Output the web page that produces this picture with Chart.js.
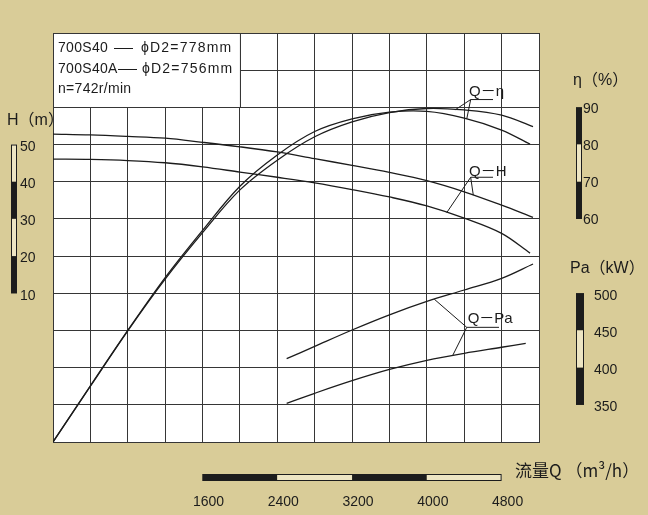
<!DOCTYPE html>
<html>
<head>
<meta charset="utf-8">
<script src="https://cdn.jsdelivr.net/npm/chart.js@4.4.1/dist/chart.umd.min.js"></script>
<style>
  html, body { margin: 0; padding: 0; background: #d9cc98; overflow: hidden; }
  #wrap { width: 648px; height: 515px; }
</style>
</head>
<body>
<div id="wrap"><canvas id="pumpChart" width="648" height="515"></canvas></div>
<script>
// flow rate samples, m3/h
const flow778 = [0, 400, 800, 1200, 1600, 2000, 2400, 2800, 3200, 3600, 4000, 4400, 4800, 5136];
const flow756 = [0, 400, 800, 1200, 1600, 2000, 2400, 2800, 3200, 3600, 4000, 4400, 4800, 5104];
// head, m
const head778 = [52.8, 52.6, 52.2, 51.7, 50.6, 49.4, 48.0, 46.2, 44.4, 42.5, 40.3, 37.3, 33.7, 30.4];
const head756 = [46.1, 46.0, 45.7, 45.1, 44.0, 42.6, 41.2, 39.7, 37.9, 35.9, 33.5, 30.2, 26.1, 20.8];
// efficiency, %
const eff778 = [0, 15.0, 29.9, 43.8, 56.3, 67.8, 75.8, 82.1, 86.1, 88.6, 89.7, 89.3, 87.9, 84.8];
const eff756 = [0, 15.1, 30.0, 44.2, 56.9, 68.8, 77.2, 83.5, 86.9, 88.7, 88.9, 87.1, 83.9, 80.1];
// shaft power, kW
const flowPa778 = [2500, 2800, 3200, 3600, 4000, 4400, 4800, 5136];
const power778 = [412, 428.6, 450.6, 471.0, 489.0, 504.4, 520.1, 539.4];
const flowPa756 = [2500, 2800, 3200, 3600, 4000, 4400, 4800, 5058];
const power756 = [352.0, 365.5, 382.4, 397.5, 409.8, 419.3, 427.4, 432.7];

// scale bar labels
const headTicks = [50, 40, 30, 20, 10];
const effTicks = [90, 80, 70, 60];
const powerTicks = [500, 450, 400, 350];
const flowTicks = [1600, 2400, 3200, 4000, 4800];

const INK = '#1c1c1c';
const GRID = '#363636';
const LIGHT = '#ede5c3';
const FONT = '"Liberation Sans", "Noto Sans CJK SC", sans-serif';

const toPoints = (xs, ys) => xs.map((x, i) => ({ x: x, y: ys[i] }));

const curve = (data, axis) => ({
    data: data,
    yAxisID: axis,
    borderColor: INK,
    borderWidth: 1.3,
    pointRadius: 0,
    fill: false,
    tension: 0.35
});

// curve labels with their leader lines (data units)
const notes = [
    { text: 'Q－η', axis: 'yEta', q: 4451, v: 94.2, lineV: 92.1, lineStart: 4469, lineEnd: 4708, targets: [[4301, 89.3], [4427, 86.9]] },
    { text: 'Q－H', axis: 'yH', q: 4451, v: 42.7, lineV: 41.2, lineStart: 4469, lineEnd: 4708, targets: [[4213, 31.7], [4497, 36.4]] },
    { text: 'Q－Pa', axis: 'yPa', q: 4437, v: 465.4, lineV: 454.2, lineStart: 4427, lineEnd: 4772, targets: [[4080, 492.0], [4277, 416.5]] }
];

function verticalBar(ctx, scale, x, w, ticks, darkFirst) {
    for (let i = 0; i < ticks.length - 1; i++) {
        const y1 = scale.getPixelForValue(ticks[i]);
        const y2 = scale.getPixelForValue(ticks[i + 1]);
        const dark = (i % 2 === 0) === darkFirst;
        ctx.fillStyle = dark ? INK : LIGHT;
        ctx.fillRect(x, y1, w, y2 - y1);
    }
    const top = scale.getPixelForValue(ticks[0]);
    const bot = scale.getPixelForValue(ticks[ticks.length - 1]);
    ctx.strokeStyle = INK;
    ctx.lineWidth = 1;
    ctx.strokeRect(x + 0.5, top + 0.5, w - 1, bot - top - 1);
}

const decor = {
    id: 'decor',
    beforeDraw(chart) {
        const ctx = chart.ctx;
        const a = chart.chartArea;
        ctx.save();
        ctx.fillStyle = '#d9cc98';
        ctx.fillRect(0, 0, chart.width, chart.height);
        ctx.fillStyle = '#ffffff';
        ctx.fillRect(a.left, a.top, a.right - a.left, a.bottom - a.top);
        ctx.restore();
    },
    beforeDatasetsDraw(chart) {
        const ctx = chart.ctx;
        const sx = chart.scales.x;
        const se = chart.scales.yEta;
        // model box in the top left corner
        const l = sx.getPixelForValue(0), r = sx.getPixelForValue(2000);
        const t = se.getPixelForValue(110), b = se.getPixelForValue(90);
        ctx.save();
        ctx.fillStyle = '#ffffff';
        ctx.fillRect(l, t, r - l, b - t);
        ctx.strokeStyle = GRID;
        ctx.lineWidth = 1;
        ctx.strokeRect(Math.round(l) + 0.5, Math.round(t) + 0.5, Math.round(r - l), Math.round(b - t));

        ctx.fillStyle = INK;
        ctx.font = '14px ' + FONT;
        ctx.textBaseline = 'middle';
        ctx.letterSpacing = '0.3px';
        ctx.fillText('700S40', l + 5, t + 15);
        ctx.fillText('700S40A', l + 5, t + 36);
        ctx.fillText('n=742r/min', l + 5, t + 56);
        ctx.letterSpacing = '1.2px';
        ctx.fillText('ϕD2=778mm', l + 88, t + 15);
        ctx.fillText('ϕD2=756mm', l + 89, t + 36);
        ctx.letterSpacing = '0px';
        ctx.strokeStyle = INK;
        ctx.beginPath();
        ctx.moveTo(l + 61, t + 15.5); ctx.lineTo(l + 80, t + 15.5);
        ctx.moveTo(l + 65, t + 36.5); ctx.lineTo(l + 84, t + 36.5);
        ctx.stroke();
        ctx.restore();
    },
    afterDraw(chart) {
        const ctx = chart.ctx;
        const sx = chart.scales.x;
        const sh = chart.scales.yH;
        const se = chart.scales.yEta;
        const sp = chart.scales.yPa;
        ctx.save();

        // curve labels
        ctx.font = '15px ' + FONT;
        ctx.textBaseline = 'middle';
        ctx.lineWidth = 1;
        notes.forEach(n => {
            const s = chart.scales[n.axis];
            ctx.fillStyle = INK;
            ctx.fillText(n.text, sx.getPixelForValue(n.q), s.getPixelForValue(n.v));
            const x0 = sx.getPixelForValue(n.lineStart);
            const y0 = s.getPixelForValue(n.lineV);
            ctx.strokeStyle = INK;
            ctx.beginPath();
            ctx.moveTo(x0, y0);
            ctx.lineTo(sx.getPixelForValue(n.lineEnd), y0);
            n.targets.forEach(p => {
                ctx.moveTo(x0, y0);
                ctx.lineTo(sx.getPixelForValue(p[0]), s.getPixelForValue(p[1]));
            });
            ctx.stroke();
        });

        // H scale
        verticalBar(ctx, sh, 11, 6, headTicks, false);
        ctx.fillStyle = INK;
        ctx.font = '14px ' + FONT;
        ctx.textAlign = 'left';
        headTicks.forEach(v => ctx.fillText(String(v), 20, sh.getPixelForValue(v) + 2.5));
        ctx.font = '16px ' + FONT;
        ctx.fillText('H（m）', 7, sh.getPixelForValue(56.5));

        // efficiency scale
        verticalBar(ctx, se, 576, 6, effTicks, true);
        ctx.font = '14px ' + FONT;
        effTicks.forEach(v => ctx.fillText(String(v), 583, se.getPixelForValue(v) + 1.5));
        ctx.font = '16px ' + FONT;
        ctx.fillText('η（%）', 573, se.getPixelForValue(97.1));

        // power scale
        verticalBar(ctx, sp, 576, 8, powerTicks, true);
        ctx.font = '14px ' + FONT;
        powerTicks.forEach(v => ctx.fillText(String(v), 594, sp.getPixelForValue(v) + 2.5));
        ctx.font = '16px ' + FONT;
        ctx.fillText('Pa（kW）', 570, sp.getPixelForValue(533.5));

        // flow scale
        const by = 474, bh = 7;
        for (let i = 0; i < flowTicks.length - 1; i++) {
            const x1 = sx.getPixelForValue(flowTicks[i]);
            const x2 = sx.getPixelForValue(flowTicks[i + 1]);
            ctx.fillStyle = i % 2 === 0 ? INK : LIGHT;
            ctx.fillRect(x1, by, x2 - x1, bh);
        }
        const fx1 = sx.getPixelForValue(flowTicks[0]);
        const fx2 = sx.getPixelForValue(flowTicks[flowTicks.length - 1]);
        ctx.strokeStyle = INK;
        ctx.strokeRect(fx1 + 0.5, by + 0.5, fx2 - fx1 - 1, bh - 1);
        ctx.fillStyle = INK;
        ctx.font = '14px ' + FONT;
        ctx.textAlign = 'center';
        flowTicks.forEach(v => ctx.fillText(String(v), sx.getPixelForValue(v) + 6, 502));
        ctx.textAlign = 'left';
        ctx.font = '17px "Noto Sans CJK SC", ' + FONT;
        ctx.fillText('流量Q （m³/h）', 515, 471);
        ctx.restore();
    }
};

const ctx = document.getElementById('pumpChart');
new Chart(ctx, {
    type: 'line',
    data: {
        datasets: [
            curve(toPoints(flow778, head778), 'yH'),
            curve(toPoints(flow756, head756), 'yH'),
            curve(toPoints(flow778, eff778), 'yEta'),
            curve(toPoints(flow756, eff756), 'yEta'),
            curve(toPoints(flowPa778, power778), 'yPa'),
            curve(toPoints(flowPa756, power756), 'yPa')
        ]
    },
    options: {
        responsive: false,
        animation: false,
        layout: { padding: { left: 53, right: 109, top: 33, bottom: 73 } },
        plugins: { legend: { display: false }, tooltip: { enabled: false } },
        scales: {
            x: {
                type: 'linear',
                min: 0,
                max: 5200,
                ticks: { display: false, stepSize: 400 },
                grid: { color: GRID, lineWidth: 1, drawTicks: false },
                border: { display: true, color: GRID }
            },
            yEta: {
                position: 'left',
                min: 0,
                max: 110,
                ticks: { display: false, stepSize: 10 },
                grid: { color: GRID, lineWidth: 1, drawTicks: false },
                border: { display: true, color: GRID }
            },
            yH: { display: false, min: -30, max: 80 },
            yPa: { display: false, min: 300, max: 850 }
        }
    },
    plugins: [decor]
});
</script>
</body>
</html>
